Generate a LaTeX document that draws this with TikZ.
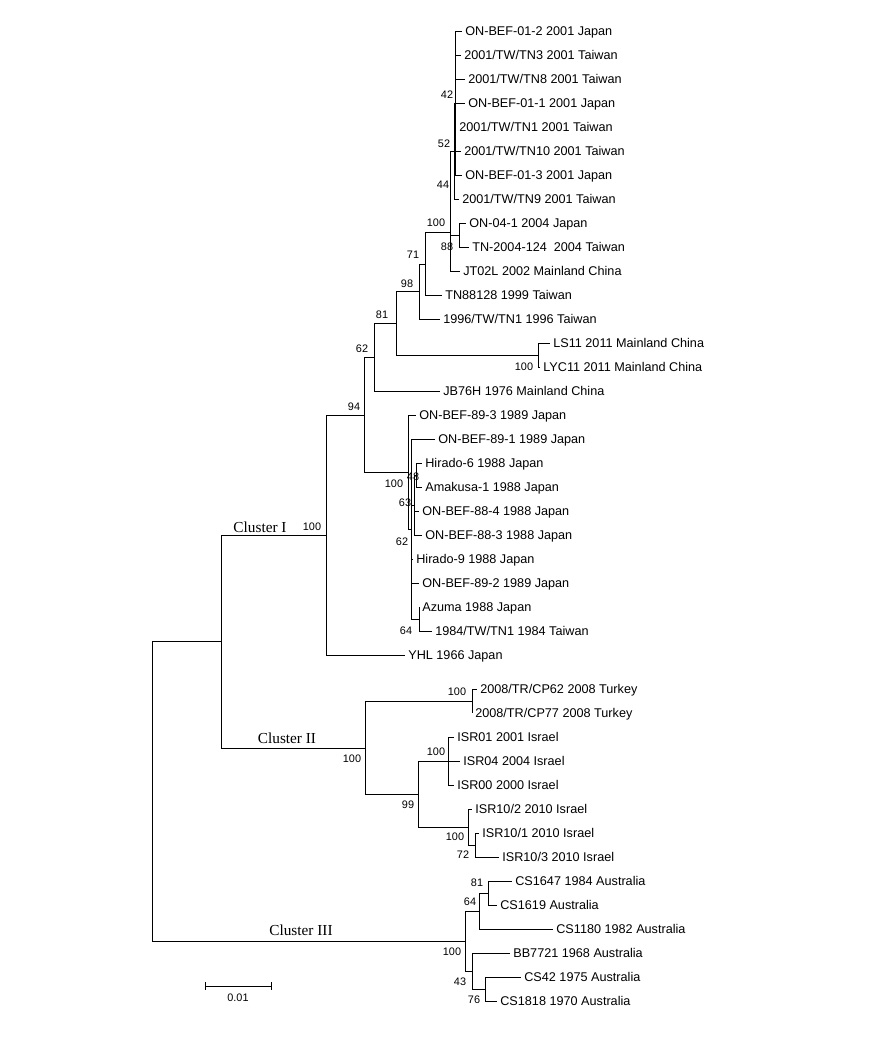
\documentclass[tikz,border=0pt]{standalone}
\usepackage{fontspec}
\setmainfont{Liberation Sans}
\newfontfamily\clusfont{Liberation Serif}
\usetikzlibrary{arrows.meta}

\begin{document}
\begin{tikzpicture}[
x=0.02cm, y=-0.02cm,
br/.style={line width=0.5pt},
leaf/.style={anchor=west, inner xsep=1.7pt, inner ysep=0pt, text height=5.2pt, text depth=0pt, font=\fontsize{7.2}{8}\selectfont},
boot/.style={inner sep=0pt, font=\fontsize{6.2}{7}\selectfont},
clus/.style={inner sep=0pt, font=\clusfont\fontsize{8.7}{10}\selectfont}
]
\useasboundingbox (0,0) rectangle (876,1064);

% Cluster I: leaves
\node[leaf] (l1) at (462,31) {ON-BEF-01-2 2001 Japan};
\node[leaf] (l2) at (461,55) {2001/TW/TN3 2001 Taiwan};
\node[leaf] (l3) at (465,79) {2001/TW/TN8 2001 Taiwan};
\node[leaf] (l4) at (465,103) {ON-BEF-01-1 2001 Japan};
\node[leaf] (l5) at (456,127) {2001/TW/TN1 2001 Taiwan};
\node[leaf] (l6) at (461,151) {2001/TW/TN10 2001 Taiwan};
\node[leaf] (l7) at (462,175) {ON-BEF-01-3 2001 Japan};
\node[leaf] (l8) at (459,199) {2001/TW/TN9 2001 Taiwan};
\node[leaf] (l9) at (466,223) {ON-04-1 2004 Japan};
\node[leaf] (l10) at (469,247) {TN-2004-124\ \ 2004 Taiwan};
\node[leaf] (l11) at (460,271) {JT02L 2002 Mainland China};
\node[leaf] (l12) at (442,295) {TN88128 1999 Taiwan};
\node[leaf] (l13) at (440,319) {1996/TW/TN1 1996 Taiwan};
\node[leaf] (l14) at (550,343) {LS11 2011 Mainland China};
\node[leaf] (l15) at (540,367) {LYC11 2011 Mainland China};
\node[leaf] (l16) at (440,391) {JB76H 1976 Mainland China};
\node[leaf] (l17) at (416,415) {ON-BEF-89-3 1989 Japan};
\node[leaf] (l18) at (435,439) {ON-BEF-89-1 1989 Japan};
\node[leaf] (l19) at (422,463) {Hirado-6 1988 Japan};
\node[leaf] (l20) at (422,487) {Amakusa-1 1988 Japan};
\node[leaf] (l21) at (419,511) {ON-BEF-88-4 1988 Japan};
\node[leaf] (l22) at (422,535) {ON-BEF-88-3 1988 Japan};
\node[leaf] (l23) at (413,559) {Hirado-9 1988 Japan};
\node[leaf] (l24) at (419,583) {ON-BEF-89-2 1989 Japan};
\node[leaf] (l25) at (419,607) {Azuma 1988 Japan};
\node[leaf] (l26) at (432,631) {1984/TW/TN1 1984 Taiwan};
\node[leaf] (l27) at (405,655) {YHL 1966 Japan};

% Cluster I: inner nodes
\coordinate (n42) at (455,103);
\coordinate (n52) at (454,151);
\coordinate (n44) at (450,193);
\coordinate (n88) at (459,235);
\coordinate (nG) at (450,232);
\coordinate (n71) at (425,264);
\coordinate (n98) at (419,291);
\coordinate (nLS) at (538,355);
\coordinate (n81) at (396,323);
\coordinate (n62) at (374,357);
\coordinate (n48) at (416,475);
\coordinate (n63) at (414,505);
\coordinate (n64) at (419,619);
\coordinate (nJ62) at (411,529);
\coordinate (nJ100) at (408,472);
\coordinate (n94) at (364,415);
\coordinate (nI) at (326,535);

% Cluster II: leaves and inner nodes
\node[leaf] (l28) at (477,689) {2008/TR/CP62 2008 Turkey};
\node[leaf] (l29) at (472,713) {2008/TR/CP77 2008 Turkey};
\node[leaf] (l30) at (454,737) {ISR01 2001 Israel};
\node[leaf] (l31) at (460,761) {ISR04 2004 Israel};
\node[leaf] (l32) at (454,785) {ISR00 2000 Israel};
\node[leaf] (l33) at (472,809) {ISR10/2 2010 Israel};
\node[leaf] (l34) at (479,833) {ISR10/1 2010 Israel};
\node[leaf] (l35) at (499,857) {ISR10/3 2010 Israel};
\coordinate (nTR) at (472,701);
\coordinate (nISRa) at (448,761);
\coordinate (n72) at (475,845);
\coordinate (nISRb) at (468,827);
\coordinate (n99) at (418,794);
\coordinate (nII) at (365,748);

% Cluster III: leaves and inner nodes
\node[leaf] (l36) at (512,881) {CS1647 1984 Australia};
\node[leaf] (l37) at (497,905) {CS1619 Australia};
\node[leaf] (l38) at (553,929) {CS1180 1982 Australia};
\node[leaf] (l39) at (510,953) {BB7721 1968 Australia};
\node[leaf] (l40) at (521,977) {CS42 1975 Australia};
\node[leaf] (l41) at (497,1001) {CS1818 1970 Australia};
\coordinate (n81c) at (488,893);
\coordinate (n64c) at (479,911);
\coordinate (n76c) at (485,989);
\coordinate (n43c) at (472,971);
\coordinate (nIII) at (465,941);

% Root
\coordinate (nIaII) at (221,641);
\coordinate (root) at (152,791);

% Branches, Cluster I
\draw[br] (n42) |- (l1.west);
\draw[br] (n42) |- (l2.west);
\draw[br] (n42) |- (l3.west);
\draw[br] (n42) |- (l4.west);
\draw[br] (n42) |- (l5.west);
\draw[br] (n42) |- (l6.west);
\draw[br] (n42) |- (l7.west);
\draw[br] (n52) |- (n42);
\draw[br] (n52) |- (l8.west);
\draw[br] (n88) |- (l9.west);
\draw[br] (n88) |- (l10.west);
\draw[br] (n44) |- (n52);
\draw[br] (n44) |- (n88);
\draw[br] (nG) |- (n44);
\draw[br] (nG) |- (l11.west);
\draw[br] (n71) |- (nG);
\draw[br] (n71) |- (l12.west);
\draw[br] (n98) |- (n71);
\draw[br] (n98) |- (l13.west);
\draw[br] (nLS) |- (l14.west);
\draw[br] (nLS) |- (l15.west);
\draw[br] (n81) |- (n98);
\draw[br] (n81) |- (nLS);
\draw[br] (n62) |- (n81);
\draw[br] (n62) |- (l16.west);

\draw[br] (n48) |- (l19.west);
\draw[br] (n48) |- (l20.west);
\draw[br] (n63) |- (n48);
\draw[br] (n63) |- (l21.west);
\draw[br] (n63) |- (l22.west);
\draw[br] (n64) |- (l25.west);
\draw[br] (n64) |- (l26.west);
\draw[br] (nJ62) |- (l18.west);
\draw[br] (nJ62) |- (n63);
\draw[br] (nJ62) |- (l23.west);
\draw[br] (nJ62) |- (l24.west);
\draw[br] (nJ62) |- (n64);
\draw[br] (nJ100) |- (l17.west);
\draw[br] (nJ100) |- (nJ62);
\draw[br] (n94) |- (n62);
\draw[br] (n94) |- (nJ100);
\draw[br] (nI) |- (n94);
\draw[br] (nI) |- (l27.west);

% Branches, Cluster II
\draw[br] (nTR) |- (l28.west);
\draw[br] (nTR) |- (l29.west);
\draw[br] (nISRa) |- (l30.west);
\draw[br] (nISRa) |- (l31.west);
\draw[br] (nISRa) |- (l32.west);
\draw[br] (n72) |- (l34.west);
\draw[br] (n72) |- (l35.west);
\draw[br] (nISRb) |- (l33.west);
\draw[br] (nISRb) |- (n72);
\draw[br] (n99) |- (nISRa);
\draw[br] (n99) |- (nISRb);
\draw[br] (nII) |- (nTR);
\draw[br] (nII) |- (n99);

% Branches, Cluster III
\draw[br] (n81c) |- (l36.west);
\draw[br] (n81c) |- (l37.west);
\draw[br] (n64c) |- (n81c);
\draw[br] (n64c) |- (l38.west);
\draw[br] (n76c) |- (l40.west);
\draw[br] (n76c) |- (l41.west);
\draw[br] (n43c) |- (l39.west);
\draw[br] (n43c) |- (n76c);
\draw[br] (nIII) |- (n64c);
\draw[br] (nIII) |- (n43c);

% Root branches
\draw[br] (nIaII) |- (nI);
\draw[br] (nIaII) |- (nII);
\draw[br] (root) |- (nIaII);
\draw[br] (root) |- (nIII);

% Bootstrap values
\node[boot] (b42) at (447,95) {42};
\node[boot] (b52) at (444,144) {52};
\node[boot] (b44) at (443,185) {44};
\node[boot] (bG) at (436,223) {100};
\node[boot] (b88) at (447,247) {88};
\node[boot] (b71) at (413,255) {71};
\node[boot] (b98) at (407,284) {98};
\node[boot] (b81) at (382,315) {81};
\node[boot] (bLS) at (524,367) {100};
\node[boot] (b62) at (362,349) {62};
\node[boot] (b94) at (354,407) {94};
\node[boot] (bJ100) at (394,484) {100};
\node[boot] (b48) at (413,477) {48};
\node[boot] (b63) at (405,503) {63};
\node[boot] (bJ62) at (402,542) {62};
\node[boot] (b64) at (406,631) {64};
\node[boot] (bI) at (312,527) {100};
\node[boot] (bII) at (352,759) {100};
\node[boot] (bTR) at (457,692) {100};
\node[boot] (bISRa) at (436,752) {100};
\node[boot] (b99) at (408,805) {99};
\node[boot] (bISRb) at (455,837) {100};
\node[boot] (b72) at (463,855) {72};
\node[boot] (b81c) at (477,883) {81};
\node[boot] (b64c) at (470,902) {64};
\node[boot] (bIII) at (452,952) {100};
\node[boot] (b43c) at (460,982) {43};
\node[boot] (b76c) at (474,1000) {76};

% Cluster names
\node[clus] (cI) at (260,527) {Cluster I};
\node[clus] (cII) at (287,738) {Cluster II};
\node[clus] (cIII) at (301,930) {Cluster III};

% Scale bar
\coordinate (sb1) at (205,986);
\coordinate (sb2) at (272,986);
\draw[br, {Bar[width=4.5pt]}-{Bar[width=4.5pt]}] (sb1) -- (sb2);
\node[boot] (sbl) at (238,998) {0.01};

\end{tikzpicture}
\end{document}
